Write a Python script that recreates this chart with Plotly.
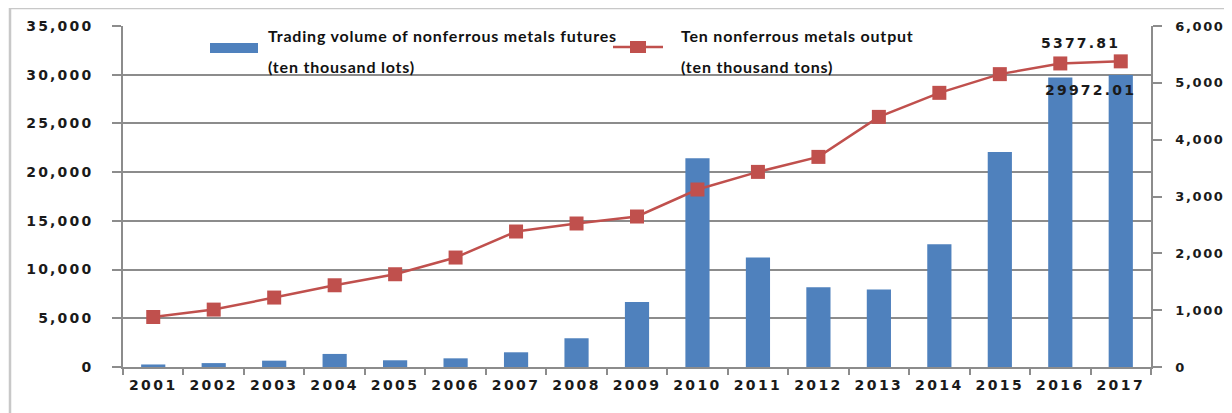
import plotly.graph_objects as go

years = [str(y) for y in range(2001, 2018)]
trading_volume = [260, 400, 650, 1340, 690, 890, 1510, 2950, 6670, 21430,
                  11230, 8180, 7950, 12600, 22080, 29720, 29972.01]
metals_output = [880, 1010, 1222, 1438, 1632, 1926, 2384, 2525, 2648, 3123,
                 3433, 3697, 4401, 4824, 5153, 5341, 5377.81]
left_ticks = [0, 5000, 10000, 15000, 20000, 25000, 30000, 35000]
right_ticks = [0, 1000, 2000, 3000, 4000, 5000, 6000]

vol_name = "Trading volume of nonferrous metals futures"
vol_unit = "(ten thousand lots)"
out_name = "Ten nonferrous metals output"
out_unit = "(ten thousand tons)"

# page body has an 8px margin: work in reference pixels and offset by 8
OFF = 8
W, H = 1232 - OFF, 413 - OFF
PLOT_L, PLOT_R, PLOT_T, PLOT_B = 123, 1151, 26, 367   # reference pixels
L, T = PLOT_L - OFF, PLOT_T - OFF
R = W - (PLOT_R - OFF)
B = H - (PLOT_B - OFF)
PW, PH = PLOT_R - PLOT_L, PLOT_B - PLOT_T
def px(x):
    return (x - PLOT_L) / PW
def py(y):
    return (PLOT_B - y) / PH

BLUE = "#4f81bd"
RED = "#c0504d"
GRID = "#8c8c8c"
TICKFONT = dict(family="DejaVu Sans", size=14, color="#1a1a1a", weight="bold")
RTICKFONT = dict(family="DejaVu Sans", size=13, color="#1a1a1a", weight="bold")
LEGFONT = dict(family="Lato", size=16, color="#111111", weight="bold")

def sp(t, s=2.2):
    return f'<span style="letter-spacing:{s}px">{t}</span>'

fig = go.Figure()
fig.add_trace(go.Bar(x=years, y=trading_volume, name=vol_name,
                     marker=dict(color=BLUE, line=dict(width=0)),
                     yaxis="y", showlegend=False))
fig.add_trace(go.Scatter(x=years, y=metals_output, name=out_name, mode="lines+markers",
                         line=dict(color=RED, width=2.5),
                         marker=dict(symbol="square", size=14, color=RED),
                         yaxis="y2", showlegend=False))

fig.update_layout(
    width=W, height=H,
    margin=dict(l=L, r=R, t=T, b=B, autoexpand=False),
    paper_bgcolor="white", plot_bgcolor="white",
    bargap=0.6,
    xaxis=dict(type="category", range=[-0.5, len(years) - 0.5], autorange=False,
               tickvals=years, ticktext=[sp(y, 2.4) for y in years],
               showgrid=False, showline=True, linecolor=GRID, linewidth=1.5,
               ticks="outside", tickson="boundaries", ticklen=6, tickcolor=GRID, tickwidth=1.5,
               tickfont=TICKFONT, ticklabelstandoff=4, tickangle=0),
    yaxis=dict(range=[0, 35000], tickvals=left_ticks,
               ticktext=[sp(f"{v:,}") for v in left_ticks],
               showgrid=True, gridcolor=GRID,
               gridwidth=1.5, showline=True, linecolor=GRID, linewidth=1.5, ticks="outside",
               ticklen=9, tickcolor=GRID, tickwidth=1.5, tickfont=TICKFONT,
               ticklabelstandoff=16, zeroline=False),
    yaxis2=dict(range=[0, 6000], tickvals=right_ticks,
                ticktext=[sp(f"{v:,}", 1.6) for v in right_ticks],
                overlaying="y", side="right",
                showgrid=False, showline=True, linecolor=GRID, linewidth=1.5, ticks="outside",
                ticklen=9, tickcolor=GRID, tickwidth=1.5, tickfont=RTICKFONT,
                ticklabelstandoff=11, zeroline=False),
)

# custom legend
fig.add_shape(type="rect", xref="paper", yref="paper",
              x0=px(210), x1=px(258), y0=py(53), y1=py(43),
              fillcolor=BLUE, line=dict(width=0))
fig.add_shape(type="line", xref="paper", yref="paper",
              x0=px(613), x1=px(663), y0=py(47), y1=py(47),
              line=dict(color=RED, width=2.5))
fig.add_shape(type="rect", xref="paper", yref="paper",
              x0=px(630), x1=px(646), y0=py(53), y1=py(41),
              fillcolor=RED, line=dict(width=0))
for txt, x, y in [(vol_name, 266, 36), (vol_unit, 266, 66),
                  (out_name, 679, 36), (out_unit, 679, 66)]:
    fig.add_annotation(text=sp(txt, 0.8), xref="paper", yref="paper",
                       x=px(x), y=py(y), xanchor="left", yanchor="middle",
                       showarrow=False, font=LEGFONT)

# data labels (category index of the last year)
last = len(years) - 1
fig.add_annotation(text=sp(f"{metals_output[-1]:.2f}"), x=last, y=metals_output[-1],
                   xref="x", yref="y2", showarrow=False, xshift=-40, yshift=18,
                   font=TICKFONT)
fig.add_annotation(text=sp(f"{trading_volume[-1]:.2f}"), x=last, y=trading_volume[-1],
                   xref="x", yref="y", showarrow=False, xshift=-30, yshift=-15,
                   font=TICKFONT)

# outer frame
fig.add_shape(type="line", xref="paper", yref="paper", x0=px(10), x1=px(10),
              y0=py(8), y1=py(430), line=dict(color="#c8c8c8", width=2.5))
fig.add_shape(type="line", xref="paper", yref="paper", x0=px(10), x1=px(1250),
              y0=py(8), y1=py(8), line=dict(color="#c8c8c8", width=2.5))

fig.write_html("out.html")
